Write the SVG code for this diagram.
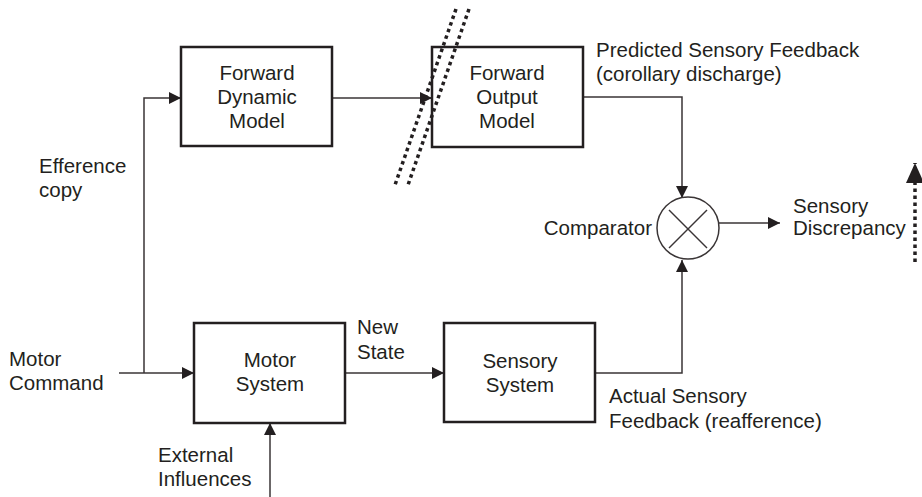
<svg xmlns="http://www.w3.org/2000/svg" width="922" height="497" viewBox="0 0 922 497">
<style>
.box{fill:#fff;stroke:#231f20;stroke-width:2.5}
.ln{fill:none;stroke:#3a3536;stroke-width:1.5}
.t{font-family:"Liberation Sans",Arial,"Noto Sans CJK JP",sans-serif;font-size:20.5px;fill:#231f20}
.c{text-anchor:middle}
.dot{fill:none;stroke:#231f20;stroke-width:3.5;stroke-dasharray:3.5 3.5}
</style>
<defs>
<marker id="ah" markerUnits="userSpaceOnUse" markerWidth="13" markerHeight="13" refX="12" refY="6" orient="auto">
<path d="M0,0 L12,6 L0,12 z" fill="#231f20"/>
</marker>
<marker id="ahb" markerUnits="userSpaceOnUse" markerWidth="22" markerHeight="20" refX="20" refY="9" orient="auto">
<path d="M0,0 L20,9 L0,18 z" fill="#231f20"/>
</marker>
</defs>

<g id="connectors">
<line class="ln" x1="119" y1="373" x2="194" y2="373" marker-end="url(#ah)"/>
<path class="ln" d="M144,373 V98 H181" marker-end="url(#ah)"/>
<line class="ln" x1="332" y1="98" x2="432" y2="98" marker-end="url(#ah)"/>
<path class="ln" d="M583,97 H682 V198" marker-end="url(#ah)"/>
<line class="ln" x1="345" y1="373" x2="444" y2="373" marker-end="url(#ah)"/>
<path class="ln" d="M595,373 H682 V260" marker-end="url(#ah)"/>
<line class="ln" x1="270" y1="497" x2="270" y2="423" marker-end="url(#ah)"/>
<line class="ln" x1="719" y1="223" x2="780" y2="223" marker-end="url(#ah)"/>
<line class="dot" x1="915" y1="262" x2="915" y2="163" marker-end="url(#ahb)"/>
</g>

<g id="forward-dynamic-model">
<rect class="box" x="181" y="47" width="151" height="99"/>
<text class="t c" x="257" y="80">Forward</text>
<text class="t c" x="257" y="104">Dynamic</text>
<text class="t c" x="257" y="128">Model</text>
</g>

<g id="forward-output-model">
<rect class="box" x="432" y="47" width="151" height="100"/>
<text class="t c" x="507" y="80">Forward</text>
<text class="t c" x="507" y="104">Output</text>
<text class="t c" x="507" y="128">Model</text>
</g>

<g id="cut-lines">
<line class="dot" x1="456" y1="9" x2="395" y2="185"/>
<line class="dot" x1="469" y1="9" x2="408" y2="185"/>
</g>

<g id="motor-system">
<rect class="box" x="194" y="323" width="151" height="100"/>
<text class="t c" x="270" y="367">Motor</text>
<text class="t c" x="270" y="391">System</text>
</g>

<g id="sensory-system">
<rect class="box" x="444" y="323" width="151" height="99"/>
<text class="t c" x="520" y="368">Sensory</text>
<text class="t c" x="520" y="392">System</text>
</g>

<g id="comparator">
<circle cx="688" cy="228" r="31" fill="#fff" stroke="#3a3536" stroke-width="1.5"/>
<line class="ln" x1="669" y1="210" x2="707" y2="248"/>
<line class="ln" x1="707" y1="210" x2="669" y2="248"/>
<text class="t" x="652" y="235" text-anchor="end">Comparator</text>
</g>

<g id="labels">
<text class="t" x="596" y="57">Predicted Sensory Feedback</text>
<text class="t" x="596" y="81">(corollary discharge)</text>
<text class="t" x="39" y="173">Efference</text>
<text class="t" x="39" y="197">copy</text>
<text class="t" x="9" y="366">Motor</text>
<text class="t" x="9" y="390">Command</text>
<text class="t" x="357" y="334">New</text>
<text class="t" x="357" y="359">State</text>
<text class="t" x="158" y="462">External</text>
<text class="t" x="158" y="486">Influences</text>
<text class="t" x="609" y="403">Actual Sensory</text>
<text class="t" x="609" y="428">Feedback (reafference)</text>
<text class="t" x="793" y="213">Sensory</text>
<text class="t" x="793" y="235">Discrepancy</text>
</g>
</svg>
